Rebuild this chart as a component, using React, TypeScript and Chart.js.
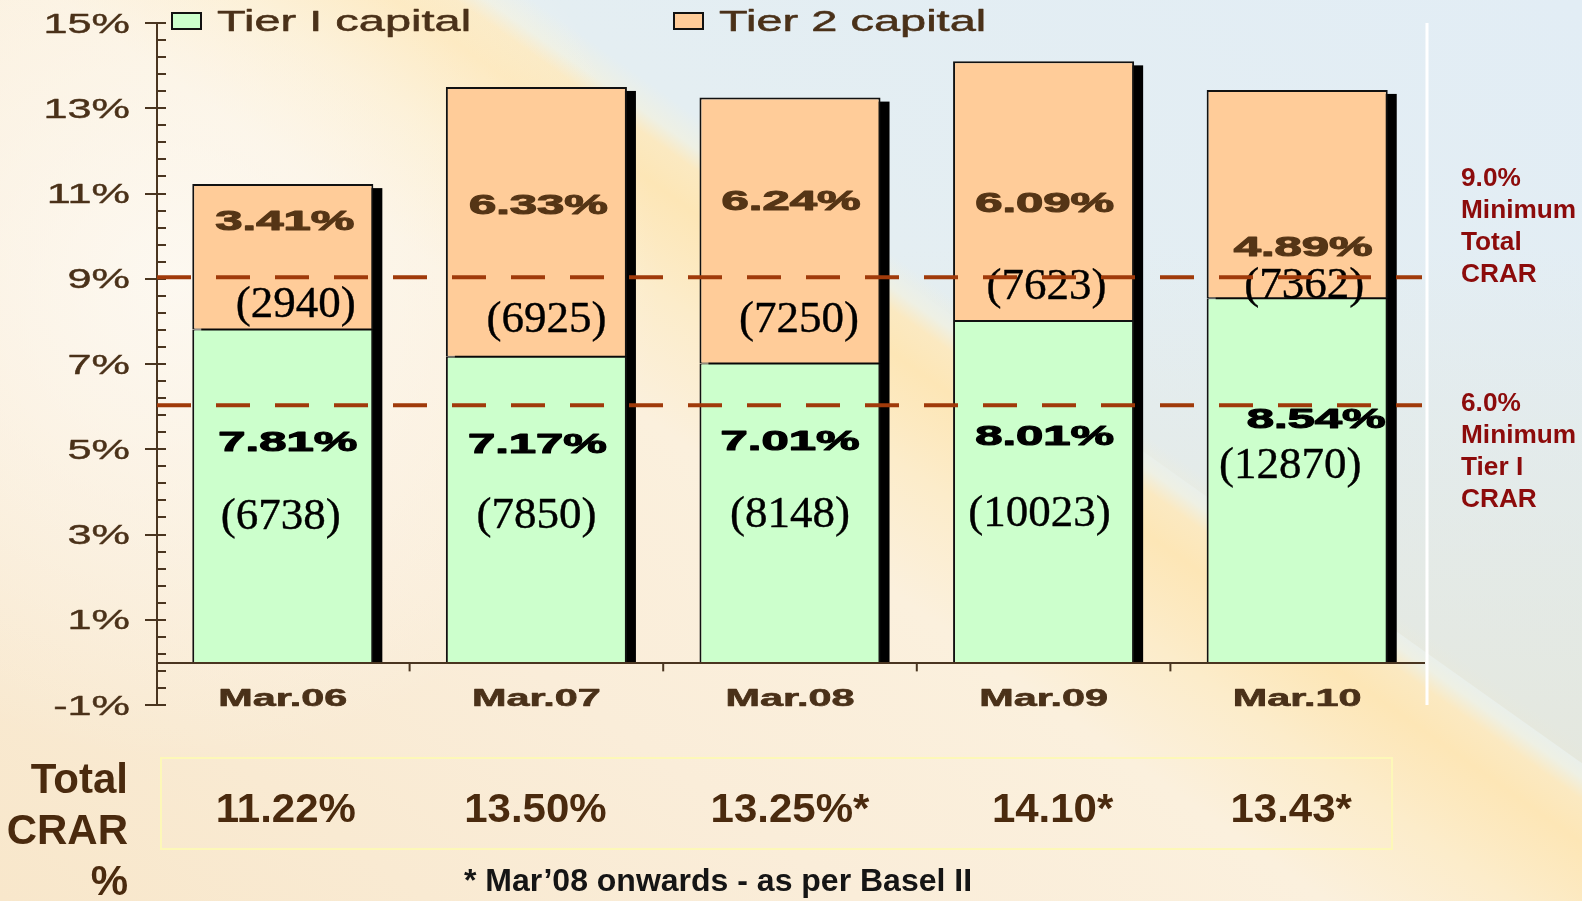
import React, { useEffect, useRef } from 'react';
import { Chart, registerables } from 'chart.js';

Chart.register(...registerables);

// ---------------- data ----------------
const CATEGORIES = ['Mar.06', 'Mar.07', 'Mar.08', 'Mar.09', 'Mar.10'];
const TIER1_PCT = [7.81, 7.17, 7.01, 8.01, 8.54];
const TIER2_PCT = [3.41, 6.33, 6.24, 6.09, 4.89];
const TIER1_AMT = [6738, 7850, 8148, 10023, 12870];
const TIER2_AMT = [2940, 6925, 7250, 7623, 7362];
const TOTAL_CRAR = ['11.22%', '13.50%', '13.25%*', '14.10*', '13.43*'];
const Y_TICKS = [-1, 1, 3, 5, 7, 9, 11, 13, 15];
const MIN_TOTAL_CRAR = 9.0;
const MIN_TIER1_CRAR = 6.0;
const NOTE_TOTAL = ['9.0%', 'Minimum', 'Total', 'CRAR'];
const NOTE_TIER1 = ['6.0%', 'Minimum', 'Tier I', 'CRAR'];
const TOTAL_TITLE = ['Total', 'CRAR', '%'];
const FOOTNOTE = '* Mar\u201908 onwards - as per Basel II';

// ---------------- layout (label placement, in y-scale units / px offsets) ----------------
const LAYOUT = {
  t2PctY: [10.14, 10.52, 10.61, 10.56, 9.53],
  t2PctDx: [2, 2, 1, 1, 6],
  t2AmtY: [8.11, 7.75, 7.75, 8.53, 8.55],
  t2AmtDx: [13, 10, 9, 3, 7],
  t1PctY: [4.96, 4.92, 4.98, 5.1, 5.5],
  t1PctDx: [5, 1, 0, 1, 19],
  t1AmtY: [3.13, 3.15, 3.18, 3.2, 4.33],
  t1AmtDx: [-2, 0, 0, -4, -7],
  totalDx: [3, -1, 0, 9, -6],
};

const W = 1582;
const H = 901;
const SANS = '"Liberation Sans", Arial, sans-serif';
const SERIF = '"Liberation Serif", "Times New Roman", serif';
const TEXT_BROWN = '#4a3119';
const AXIS_BROWN = '#4a3520';

function stretchText(
  ctx: CanvasRenderingContext2D,
  text: string,
  x: number,
  y: number,
  font: string,
  color: string,
  sx: number,
  align: 'left' | 'center' | 'right',
  stroke = 0
) {
  ctx.save();
  ctx.font = font;
  ctx.fillStyle = color;
  ctx.textAlign = 'left';
  ctx.textBaseline = 'alphabetic';
  const w = ctx.measureText(text).width * sx;
  const left = align === 'center' ? x - w / 2 : align === 'right' ? x - w : x;
  ctx.translate(left, y);
  ctx.scale(sx, 1);
  ctx.fillText(text, 0, 0);
  if (stroke > 0) {
    ctx.strokeStyle = color;
    ctx.lineWidth = stroke;
    ctx.lineJoin = 'round';
    ctx.strokeText(text, 0, 0);
  }
  ctx.restore();
}

function line(ctx: CanvasRenderingContext2D, x1: number, y1: number, x2: number, y2: number) {
  ctx.beginPath();
  ctx.moveTo(x1, y1);
  ctx.lineTo(x2, y2);
  ctx.stroke();
}

const backgroundPlugin = {
  id: 'slideBackground',
  beforeDraw(chart: any) {
    const ctx: CanvasRenderingContext2D = chart.ctx;
    ctx.save();
    const A = { x: 470, y: 10 };
    const n = { x: 0.579, y: -0.815 };
    const d = { x: 0.815, y: 0.579 };
    const sMin = -998;
    const sMax = 652;
    const g = ctx.createLinearGradient(
      A.x + n.x * sMin, A.y + n.y * sMin, A.x + n.x * sMax, A.y + n.y * sMax
    );
    const stops: [number, string][] = [
      [-998, '#f8e7cb'], [-500, '#faedd9'], [-230, '#fbf0dd'], [-120, '#fcecca'],
      [-35, '#fde6b6'], [0, '#fbe9c1'], [18, '#eef0e4'], [45, '#e4eef2'], [652, '#e2edf5'],
    ];
    stops.forEach(([s, c]) => g.addColorStop((s - sMin) / (sMax - sMin), c));
    ctx.fillStyle = g;
    ctx.fillRect(0, 0, W, H);

    // whitish glow, upper left
    const r = ctx.createRadialGradient(180, 280, 0, 180, 280, 480);
    r.addColorStop(0, 'rgba(253,250,244,0.85)');
    r.addColorStop(1, 'rgba(253,250,244,0)');
    ctx.fillStyle = r;
    ctx.fillRect(0, 0, W, H);

    // greyish tint on the blue side toward the bottom
    const P = { x: A.x + n.x * 30, y: A.y + n.y * 30 };
    ctx.beginPath();
    ctx.moveTo(P.x - d.x * 3000, P.y - d.y * 3000);
    ctx.lineTo(P.x + d.x * 3000, P.y + d.y * 3000);
    ctx.lineTo(P.x + d.x * 3000 + n.x * 3000, P.y + d.y * 3000 + n.y * 3000);
    ctx.lineTo(P.x - d.x * 3000 + n.x * 3000, P.y - d.y * 3000 + n.y * 3000);
    ctx.closePath();
    ctx.clip();
    const v = ctx.createLinearGradient(0, 250, 0, H);
    v.addColorStop(0, 'rgba(228,229,216,0)');
    v.addColorStop(1, 'rgba(228,229,216,0.95)');
    ctx.fillStyle = v;
    ctx.fillRect(0, 0, W, H);
    ctx.restore();
  },
};

const shadowPlugin = {
  id: 'barShadow',
  beforeDatasetsDraw(chart: any) {
    const ctx: CanvasRenderingContext2D = chart.ctx;
    const y0 = chart.scales.y.getPixelForValue(0);
    const meta = chart.getDatasetMeta(1);
    ctx.save();
    ctx.fillStyle = '#000000';
    meta.data.forEach((el: any) => {
      const { x, y, width } = el.getProps(['x', 'y', 'width'], true);
      ctx.fillRect(x - width / 2 + 9, y + 4, width, y0 - y - 4);
    });
    ctx.restore();
  },
};

const decorPlugin = {
  id: 'decor',
  afterDatasetsDraw(chart: any) {
    const ctx: CanvasRenderingContext2D = chart.ctx;
    const xs = chart.scales.x;
    const ys = chart.scales.y;
    const ca = chart.chartArea;
    const ax = ca.left + 1;
    const y0 = ys.getPixelForValue(0);
    ctx.save();

    // y axis
    ctx.strokeStyle = AXIS_BROWN;
    ctx.lineWidth = 2;
    line(ctx, ax, ys.getPixelForValue(15), ax, ys.getPixelForValue(-1));
    for (let k = 0; k <= 40; k++) {
      const v = -1 + k * 0.4;
      const py = Math.round(ys.getPixelForValue(v));
      const major = k % 5 === 0;
      line(ctx, major ? ax - 12 : ax, py, ax + 9, py);
    }
    Y_TICKS.forEach((v) => {
      const py = ys.getPixelForValue(v);
      stretchText(ctx, `${v}%`, 130, py + 9.7, `27px ${SANS}`, TEXT_BROWN, 1.6, 'right', 0.4);
    });

    // x axis at zero
    ctx.strokeStyle = AXIS_BROWN;
    ctx.lineWidth = 2;
    line(ctx, ax, y0 + 0.5, ca.right + 1, y0 + 0.5);
    const cw = (ca.right - ca.left) / CATEGORIES.length;
    for (let k = 1; k < CATEGORIES.length; k++) {
      const bx = ca.left + k * cw;
      line(ctx, bx, y0, bx, y0 + 9);
    }
    CATEGORIES.forEach((c, i) => {
      stretchText(ctx, c, xs.getPixelForValue(i), y0 + 44, `bold 23px ${SANS}`, TEXT_BROWN, 1.8, 'center', 0.6);
    });

    // white separator line
    ctx.strokeStyle = '#ffffff';
    ctx.lineWidth = 3;
    line(ctx, ca.right + 3, ca.top, ca.right + 3, ca.bottom);

    // bar labels
    const m0 = chart.getDatasetMeta(0);
    const m1 = chart.getDatasetMeta(1);
    CATEGORIES.forEach((_, i) => {
      const bx = m0.data[i].x;
      stretchText(ctx, `${TIER2_PCT[i].toFixed(2)}%`, bx + LAYOUT.t2PctDx[i], ys.getPixelForValue(LAYOUT.t2PctY[i]),
        `bold 28px ${SANS}`, '#553516', 1.75, 'center', 1.1);
      stretchText(ctx, `(${TIER2_AMT[i]})`, m1.data[i].x + LAYOUT.t2AmtDx[i], ys.getPixelForValue(LAYOUT.t2AmtY[i]),
        `45px ${SERIF}`, '#000000', 1, 'center', 0.4);
      stretchText(ctx, `${TIER1_PCT[i].toFixed(2)}%`, bx + LAYOUT.t1PctDx[i], ys.getPixelForValue(LAYOUT.t1PctY[i]),
        `bold 28px ${SANS}`, '#000000', 1.75, 'center', 1.1);
      stretchText(ctx, `(${TIER1_AMT[i]})`, bx + LAYOUT.t1AmtDx[i], ys.getPixelForValue(LAYOUT.t1AmtY[i]),
        `45px ${SERIF}`, '#000000', 1, 'center', 0.4);
    });

    // dashed minimum lines
    ctx.strokeStyle = '#a03a0a';
    ctx.lineWidth = 4;
    ctx.setLineDash([34, 25]);
    ctx.lineDashOffset = 0;
    [MIN_TOTAL_CRAR, MIN_TIER1_CRAR].forEach((v) => {
      const py = ys.getPixelForValue(v) - 1.5;
      line(ctx, ax, py, ca.right - 2, py);
    });
    ctx.setLineDash([]);

    // right notes
    const noteFont = `bold 25px ${SANS}`;
    const p9 = ys.getPixelForValue(MIN_TOTAL_CRAR);
    NOTE_TOTAL.forEach((t, k) => stretchText(ctx, t, 1461, p9 - 93 + k * 32, noteFont, '#8c0b0b', 1.05, 'left'));
    const p6 = ys.getPixelForValue(MIN_TIER1_CRAR);
    NOTE_TIER1.forEach((t, k) => stretchText(ctx, t, 1461, p6 + 4 + k * 32, noteFont, '#8c0b0b', 1.05, 'left'));

    // legend
    const legendX = [172, 674];
    chart.data.datasets.forEach((ds: any, k: number) => {
      const lx = legendX[k];
      ctx.fillStyle = ds.backgroundColor;
      ctx.fillRect(lx, 13, 29, 16);
      ctx.strokeStyle = '#111111';
      ctx.lineWidth = 2;
      ctx.strokeRect(lx, 13, 29, 16);
      stretchText(ctx, ds.label, lx + 45, 31, `29px ${SANS}`, TEXT_BROWN, 1.62, 'left', 0.5);
    });

    // total CRAR table
    const titleFont = `bold 42px ${SANS}`;
    TOTAL_TITLE.forEach((t, k) => stretchText(ctx, t, 128, 793 + k * 51, titleFont, '#4a2a0e', 1, 'right'));
    ctx.strokeStyle = '#fdf8b8';
    ctx.lineWidth = 2;
    ctx.strokeRect(161, 758, 1231, 91);
    TOTAL_CRAR.forEach((t, i) => {
      stretchText(ctx, t, xs.getPixelForValue(i) + LAYOUT.totalDx[i], 822, `bold 40px ${SANS}`, '#4a2a0e', 1.05, 'center');
    });
    stretchText(ctx, FOOTNOTE, 464, 891, `bold 32px ${SANS}`, '#151515', 1, 'left');

    ctx.restore();
  },
};

export default function App() {
  const ref = useRef<HTMLCanvasElement>(null);

  useEffect(() => {
    document.body.style.margin = '0';
    document.body.style.overflow = 'hidden';
    const canvas = ref.current;
    if (!canvas) return;
    const chart = new Chart(canvas, {
      type: 'bar',
      data: {
        labels: CATEGORIES,
        datasets: [
          {
            label: 'Tier I capital',
            data: TIER1_PCT,
            backgroundColor: '#ccffcc',
            borderColor: '#111111',
            borderWidth: { top: 1, left: 2, right: 2, bottom: 0 },
            borderSkipped: false,
            barPercentage: 0.714,
            categoryPercentage: 1,
          },
          {
            label: 'Tier 2 capital',
            data: TIER2_PCT,
            backgroundColor: '#ffcc99',
            borderColor: '#111111',
            borderWidth: { top: 2, left: 2, right: 2, bottom: 1 },
            borderSkipped: false,
            barPercentage: 0.714,
            categoryPercentage: 1,
          },
        ],
      },
      options: {
        responsive: false,
        maintainAspectRatio: false,
        devicePixelRatio: 1,
        animation: false,
        layout: { padding: { left: 156, right: 158, top: 23, bottom: 196 } },
        plugins: {
          legend: { display: false },
          tooltip: { enabled: false },
          title: { display: false },
        },
        scales: {
          x: { stacked: true, display: false, offset: true },
          y: { stacked: true, display: false, min: -1, max: 15 },
        },
      } as any,
      plugins: [backgroundPlugin, shadowPlugin, decorPlugin],
    });
    return () => chart.destroy();
  }, []);

  return (
    <div style={{ position: 'absolute', left: 0, top: 0, width: W, height: H }}>
      <canvas ref={ref} width={W} height={H} style={{ display: 'block', width: W, height: H }} />
    </div>
  );
}
